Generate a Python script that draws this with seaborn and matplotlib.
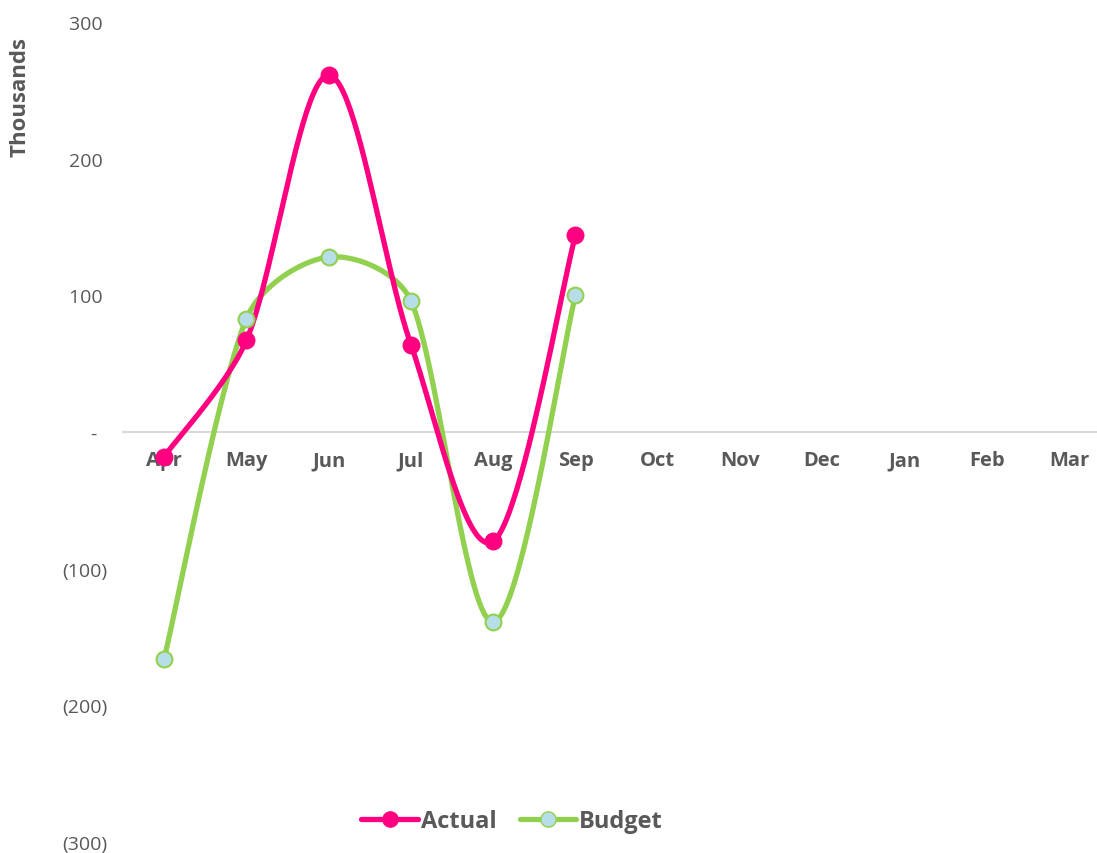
import matplotlib
matplotlib.use("Agg")
import matplotlib.pyplot as plt
from matplotlib.lines import Line2D
import numpy as np
import pandas as pd
import seaborn as sns

months = ["Apr", "May", "Jun", "Jul", "Aug", "Sep", "Oct", "Nov", "Dec", "Jan", "Feb", "Mar"]
actual = [-18, 67, 261, 64, -80, 144]
budget = [-166, 83, 128, 96, -139, 100]

PINK = "#FF0080"
GREEN = "#92D050"
BLUE_FILL = "#B7DEE8"
GREY = "#595959"

W, H = 1097, 854
LEFT, TOP, BOTTOM = 123, 23, 843
XLIM = (-0.5, 11.34)
YLIM = (-300, 300)

# pixels per data unit, so the smoothing happens in screen space like Excel does
sx_px = (W - LEFT) / (XLIM[1] - XLIM[0])
sy_px = (BOTTOM - TOP) / (YLIM[1] - YLIM[0])


def smooth(xs, ys, n=50):
    # bezier smoothing: catmull-rom tangents, clamped to a third of the segment
    p = np.column_stack([np.asarray(xs, float) * sx_px, np.asarray(ys, float) * sy_px])
    ext = np.vstack([p[0], p, p[-1]])
    tang = (ext[2:] - ext[:-2]) / 6
    t = np.linspace(0, 1, n)[:, None]
    out = []
    for i in range(len(p) - 1):
        seg = np.linalg.norm(p[i + 1] - p[i])
        t0, t1 = tang[i], tang[i + 1]
        lim = seg / 3
        if np.linalg.norm(t0) > lim:
            t0 = t0 / np.linalg.norm(t0) * lim
        if np.linalg.norm(t1) > lim:
            t1 = t1 / np.linalg.norm(t1) * lim
        c1 = p[i] + t0
        c2 = p[i + 1] - t1
        b = (1 - t) ** 3 * p[i] + 3 * (1 - t) ** 2 * t * c1 + 3 * (1 - t) * t ** 2 * c2 + t ** 3 * p[i + 1]
        out.append(b)
    out = np.vstack(out)
    return out[:, 0] / sx_px, out[:, 1] / sy_px


sns.set_style("white")
plt.rcParams["font.family"] = ["Open Sans", "DejaVu Sans"]

fig = plt.figure(figsize=(W / 100, H / 100), dpi=100)
ax = fig.add_axes([LEFT / W, 1 - BOTTOM / H, 1 - LEFT / W, (BOTTOM - TOP) / H])

x_idx = np.arange(len(actual))

for vals, color, face in [(budget, GREEN, BLUE_FILL), (actual, PINK, PINK)]:
    cx, cy = smooth(x_idx, vals)
    df = pd.DataFrame({"x": cx, "y": cy})
    sns.lineplot(data=df, x="x", y="y", ax=ax, color=color, linewidth=3.8,
                 sort=False, estimator=None, zorder=3)
    pts = pd.DataFrame({"x": x_idx, "y": vals})
    sns.scatterplot(data=pts, x="x", y="y", ax=ax, s=130, color=face,
                    edgecolor=color, linewidth=1.5, zorder=4)

for s in ["top", "right", "left"]:
    ax.spines[s].set_visible(False)
ax.spines["bottom"].set_position(("data", 0))
ax.spines["bottom"].set_color("#D9D9D9")
ax.spines["bottom"].set_linewidth(1.5)

ax.set_xlim(*XLIM)
ax.set_ylim(*YLIM)
ax.set_xticks(range(len(months)))
ax.set_xticklabels(months, fontsize=14.5, fontweight="bold", color=GREY)
ax.set_yticks([300, 200, 100, 0, -100, -200, -300])
ax.set_yticklabels(["300 ", "200 ", "100 ", "-  ", "(100)", "(200)", "(300)"],
                   fontsize=14, color=GREY)
ax.tick_params(axis="both", length=0)
ax.tick_params(axis="y", pad=11)
ax.tick_params(axis="x", pad=13)
ax.set_xlabel("")
ax.set_ylabel("")

fig.text(20 / W, 1 - 97 / H, "Thousands", rotation=90, ha="center", va="center",
         fontsize=16, fontweight="bold", color=GREY)

handles = [
    Line2D([], [], color=PINK, linewidth=3.8, marker="o", markersize=11,
           markerfacecolor=PINK, markeredgecolor=PINK),
    Line2D([], [], color=GREEN, linewidth=3.8, marker="o", markersize=11,
           markerfacecolor=BLUE_FILL, markeredgecolor=GREEN),
]
leg = fig.legend(handles, ["Actual", "Budget"], loc="center",
                 bbox_to_anchor=(512 / W, 1 - 822 / H), ncol=2, frameon=False,
                 handlelength=2.4, handletextpad=0.1, columnspacing=1.0,
                 prop={"size": 17, "weight": "bold"})
for t in leg.get_texts():
    t.set_color(GREY)

fig.savefig("out.png", dpi=100)
